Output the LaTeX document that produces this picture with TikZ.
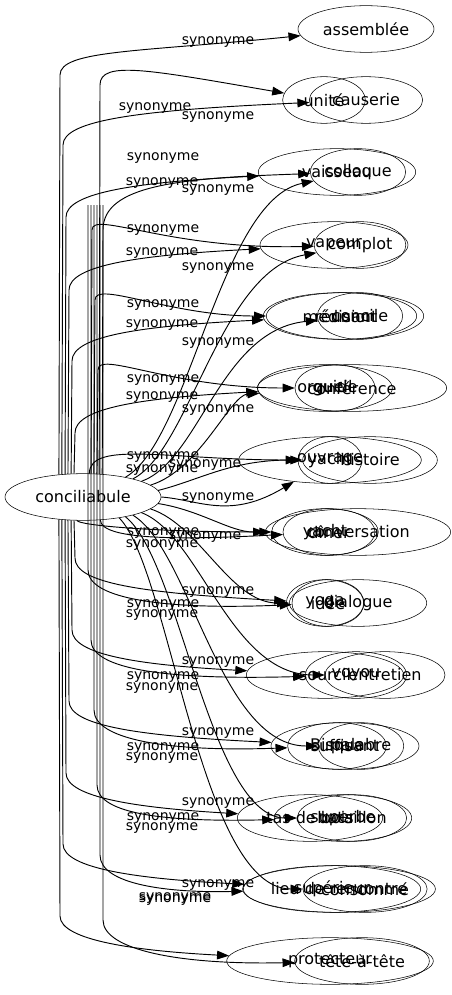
\documentclass[tikz,border=0pt]{standalone}
\usepackage{fontspec}
\setmainfont{DejaVu Sans}
\usetikzlibrary{shapes.geometric,arrows.meta}
\tikzset{
  word/.style={draw, ellipse, inner sep=0pt, minimum height=35pt, font=\fontsize{12}{14}\selectfont},
  syn/.style={draw, line width=0.7pt, -{Triangle[length=9pt,width=6.5pt]}},
  synlabel/.style={inner sep=0pt, font=\fontsize{10.5}{12}\selectfont}
}
\begin{document}
\begin{tikzpicture}[x=0.75pt,y=-0.75pt]
\useasboundingbox (0,0) rectangle (452,995);

\node[word, minimum width=117pt] (conc) at (83,497) {conciliabule};

% départs des arcs qui traversent
\coordinate (h1) at (88,205);
\coordinate (h2) at (91,205);
\coordinate (h3) at (94,205);
\coordinate (h4) at (97,205);
\coordinate (h5) at (100,205);
\coordinate (h6) at (103,205);

% rangées de synonymes
\node[word, minimum width=102pt] (a1) at (366,29) {assemblée};

\node[word, minimum width=62pt] (b1) at (324,100) {unité};
\node[word, minimum width=85pt] (b2) at (366,100) {causerie};

\node[word, minimum width=118pt] (c1) at (337,172) {vaisseau};
\node[word, minimum width=60pt] (c2) at (358,172) {colloque};

\node[word, minimum width=111pt] (d1) at (334,245) {vapeur};
\node[word, minimum width=47pt] (d2) at (360,245) {complot};

\node[word, minimum width=115pt] (e1) at (340,316) {médisant};
\node[word, minimum width=118pt] (e2) at (345,316) {réunion};
\node[word, minimum width=64pt] (e3) at (360,316) {concile};

\node[word, minimum width=101pt] (f1) at (325,388) {orgueil};
\node[word, minimum width=60pt] (f2) at (335,388) {guide};
\node[word, minimum width=142pt] (f3) at (352,388) {conférence};

\node[word, minimum width=137pt] (g1) at (330,460) {ouvrage};
\node[word, minimum width=48pt] (g2) at (330,460) {yacht};
\node[word, minimum width=101pt] (g3) at (370,460) {histoire};

\node[word, minimum width=80pt] (x1) at (325,532) {yacht};
\node[word, minimum width=69pt] (x2) at (329,532) {dîner};
\node[word, minimum width=139pt] (x3) at (358,532) {conversation};

\node[word, minimum width=58pt] (i1) at (325,603) {yoga};
\node[word, minimum width=54pt] (i2) at (328,603) {idée};
\node[word, minimum width=103pt] (i3) at (358,603) {dialogue};

\node[word, minimum width=118pt] (j1) at (325,675) {sourcil};
\node[word, minimum width=76pt] (j2) at (356,675) {voyou};
\node[word, minimum width=90pt] (j3) at (385,675) {entretien};

\node[word, minimum width=111pt] (k1) at (345,746) {suffisant};
\node[word, minimum width=74pt] (k2) at (337,746) {Bisque};
\node[word, minimum width=60pt] (k3) at (361,746) {palabre};

\node[word, minimum width=109pt] (l1) at (310,818) {tas de bois};
\node[word, minimum width=103pt] (l2) at (343,818) {superbe};
\node[word, minimum width=82pt] (l3) at (352,818) {bataillon};

\node[word, minimum width=133pt] (m1) at (339,889) {lieu de rencontre};
\node[word, minimum width=133pt] (m2) at (332,889) {supérieur};
\node[word, minimum width=72pt] (m3) at (365,889) {consommé};

\node[word, minimum width=155pt] (n1) at (330,961) {protecteur};
\node[word, minimum width=101pt] (n2) at (362,961) {tête-à-tête};

% arcs montants
\draw[syn] (conc.137) -- (60,75) .. controls (60,50) and (140,52) .. (a1);
\draw[syn] (conc.133) -- (63,145) .. controls (63,120) and (140,110) .. (b2);
\draw[syn] (conc.128) -- (66,217) .. controls (66,192) and (140,182) .. (c1);
\draw[syn] (conc.123) -- (69,290) .. controls (69,265) and (140,255) .. (d1);
\draw[syn] (conc.117) -- (72,361) .. controls (72,336) and (140,326) .. (e1);
\draw[syn] (conc.111) -- (75,433) .. controls (75,408) and (140,398) .. (f1);

\draw[syn] (conc.55) -- (100,85) .. controls (100,60) and (150,70) .. (b1);
\draw[syn] (conc.50) -- (103,230) .. controls (103,185) and (180,178) .. (c2);
\draw[syn] (conc.71) -- (92,230) .. controls (92,210) and (170,250) .. (d2);
\draw[syn] (conc.65) -- (95,300) .. controls (95,280) and (170,316) .. (e2);
\draw[syn] (conc.59) -- (98,370) .. controls (98,350) and (170,388) .. (f2);
\draw[syn] (conc.75) .. controls (90,440) and (170,460) .. (g2);

% arcs obliques
\draw[syn] (conc.25) .. controls (190,440) and (220,200) .. (c2);
\draw[syn] (conc.20) .. controls (190,450) and (220,270) .. (d2);
\draw[syn] (conc.15) .. controls (200,460) and (220,330) .. (e3);
\draw[syn] (conc.10) .. controls (200,470) and (230,395) .. (f3);
\draw[syn] (conc.5) .. controls (200,480) and (230,460) .. (g3);
\draw[syn] (conc.0) .. controls (200,500) and (230,520) .. (g1);
\draw[syn] (conc.-5) .. controls (200,510) and (230,532) .. (x3);
\draw[syn] (conc.-10) .. controls (200,525) and (230,603) .. (i3);
\draw[syn] (conc.-15) .. controls (200,535) and (230,675) .. (j3);
\draw[syn] (conc.-20) .. controls (190,550) and (220,746) .. (k3);
\draw[syn] (conc.-25) .. controls (180,560) and (210,818) .. (l3);
\draw[syn] (conc.-30) .. controls (170,570) and (200,889) .. (m3);

% arcs descendants
\draw[syn] (conc.-104) .. controls (78,525) and (150,532) .. (x1);
\draw[syn] (conc.-111) -- (75,558) .. controls (75,583) and (140,593) .. (i1);
\draw[syn] (conc.-117) -- (72,630) .. controls (72,655) and (140,665) .. (j1);
\draw[syn] (conc.-123) -- (69,701) .. controls (69,726) and (140,736) .. (k1);
\draw[syn] (conc.-128) -- (66,773) .. controls (66,798) and (140,808) .. (l1);
\draw[syn] (conc.-133) -- (63,844) .. controls (63,869) and (140,879) .. (m1);
\draw[syn] (conc.-137) -- (60,916) .. controls (60,941) and (140,951) .. (n1);

\draw[syn] (conc.-53) .. controls (101,540) and (180,540) .. (x2);
\draw[syn] (h1) -- (88,570) .. controls (88,600) and (170,610) .. (i2);
\draw[syn] (h2) -- (91,640) .. controls (91,670) and (170,680) .. (j2);
\draw[syn] (h3) -- (94,710) .. controls (94,740) and (170,752) .. (k2);
\draw[syn] (h4) -- (97,785) .. controls (97,815) and (170,822) .. (l2);
\draw[syn] (h5) -- (100,855) .. controls (100,885) and (170,893) .. (m2);
\draw[syn] (h6) -- (103,920) .. controls (103,950) and (180,965) .. (n2);

% étiquettes
\node[synlabel] (s1) at (218,42) {synonyme};
\node[synlabel] (s2) at (155,108) {synonyme};
\node[synlabel] (s3) at (218,117) {synonyme};
\node[synlabel] (s4) at (163,158) {synonyme};
\node[synlabel] (s5) at (162,183) {synonyme};
\node[synlabel] (s6) at (218,190) {synonyme};
\node[synlabel] (s7) at (163,230) {synonyme};
\node[synlabel] (s8) at (162,253) {synonyme};
\node[synlabel] (s9) at (218,268) {synonyme};
\node[synlabel] (s10) at (163,305) {synonyme};
\node[synlabel] (s11) at (162,325) {synonyme};
\node[synlabel] (s12) at (218,343) {synonyme};
\node[synlabel] (s13) at (163,380) {synonyme};
\node[synlabel] (s14) at (162,397) {synonyme};
\node[synlabel] (s15) at (218,410) {synonyme};
\node[synlabel] (s16) at (163,457) {synonyme};
\node[synlabel] (s17) at (162,470) {synonyme};
\node[synlabel] (s18) at (205,465) {synonyme};
\node[synlabel] (s19) at (218,498) {synonyme};
\node[synlabel] (s20) at (163,533) {synonyme};
\node[synlabel] (s21) at (162,545) {synonyme};
\node[synlabel] (s22) at (205,537) {synonyme};
\node[synlabel] (s23) at (218,592) {synonyme};
\node[synlabel] (s24) at (163,605) {synonyme};
\node[synlabel] (s25) at (162,615) {synonyme};
\node[synlabel] (s26) at (218,662) {synonyme};
\node[synlabel] (s27) at (163,677) {synonyme};
\node[synlabel] (s28) at (162,688) {synonyme};
\node[synlabel] (s29) at (218,733) {synonyme};
\node[synlabel] (s30) at (163,748) {synonyme};
\node[synlabel] (s31) at (162,758) {synonyme};
\node[synlabel] (s32) at (218,803) {synonyme};
\node[synlabel] (s33) at (163,818) {synonyme};
\node[synlabel] (s34) at (162,828) {synonyme};
\node[synlabel] (s35) at (218,885) {synonyme};
\node[synlabel] (s36) at (175,898) {synonyme};
\node[synlabel] (s37) at (175,900) {synonyme};
\end{tikzpicture}
\end{document}
